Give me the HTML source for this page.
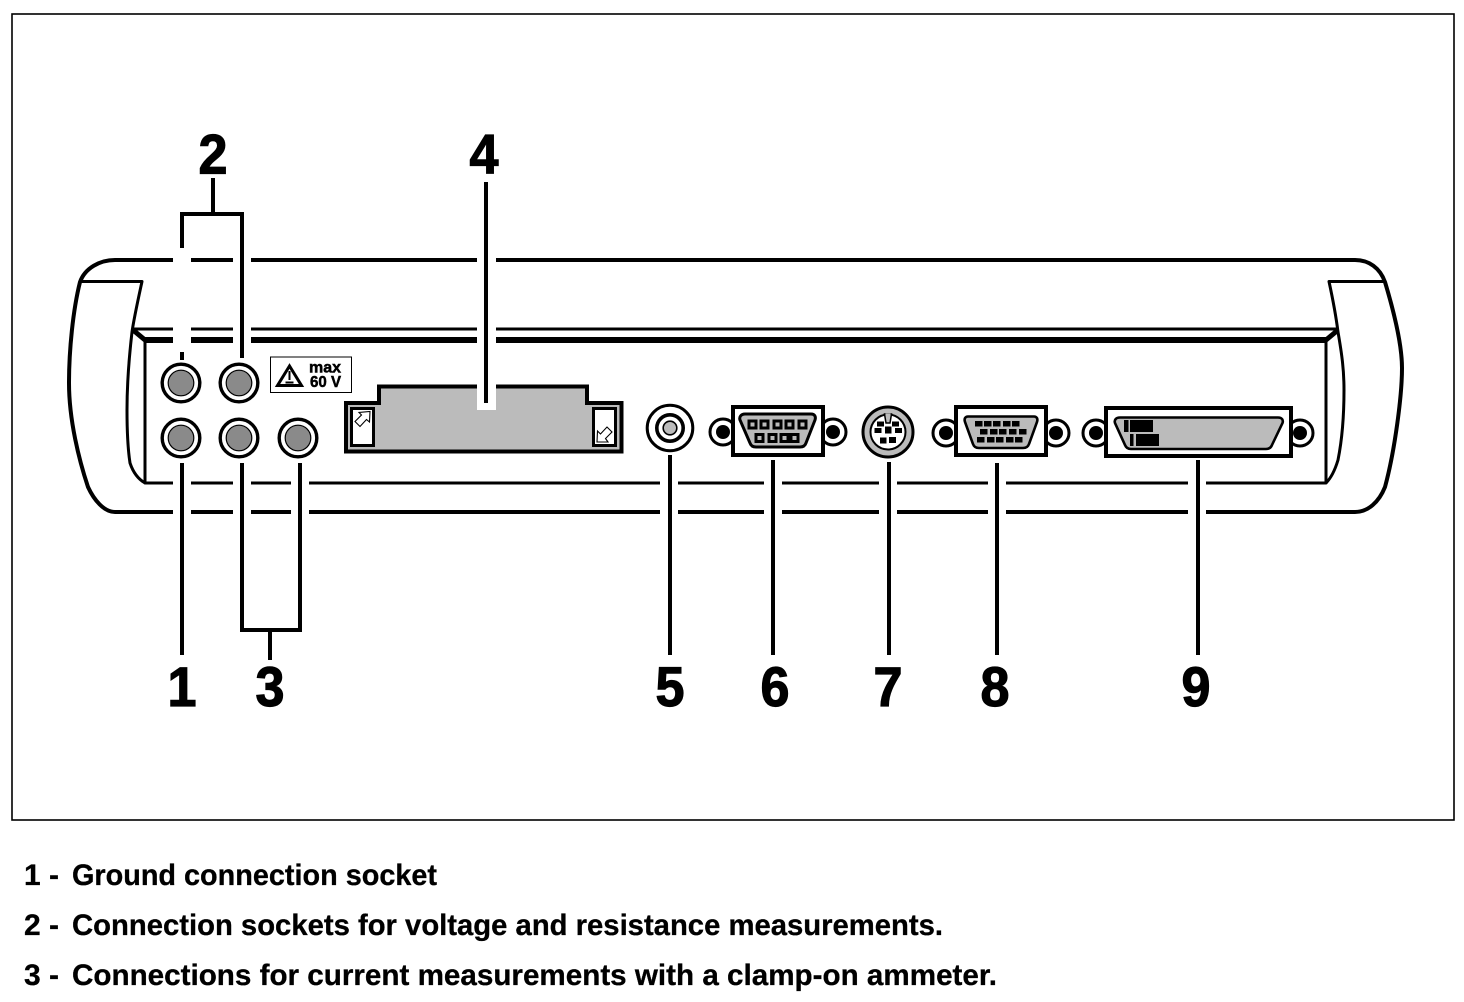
<!DOCTYPE html>
<html><head><meta charset="utf-8"><style>
html,body{margin:0;padding:0;background:#fff}
svg{display:block}
text{font-family:"Liberation Sans",sans-serif;font-weight:bold;fill:#000}
.n{font-size:56px;text-anchor:middle;stroke:#000;stroke-width:1.2px}
.c{font-size:30px;stroke:#000;stroke-width:.3px}
.w{font-size:15.5px;text-anchor:middle;stroke:#000;stroke-width:.5px}
</style></head><body>
<svg width="1464" height="1002" viewBox="0 0 1464 1002" xmlns="http://www.w3.org/2000/svg">
<rect width="1464" height="1002" fill="#fff"/>
<rect x="12" y="14" width="1442" height="806" fill="none" stroke="#000" stroke-width="1.6"/>

<!-- housing -->
<g fill="none" stroke="#000" stroke-linejoin="round">
<path d="M115 260H1355C1369 260 1380 268 1385 282C1391 302 1402 340 1402 368C1402 395 1395 450 1385 487C1379 502 1368 512 1355 512H115C104 512 94 500 88 487C79 460 69 420 69 383C69 350 73 310 80 282C85 268 100 260 115 260Z" stroke-width="4"/>
<path d="M80 281.500H142C138 300 134 318 132 332C129 358 127 385 127 410C127 430 128 450 130 463C133 472 138 479 145 483" stroke-width="3"/>
<path d="M1385 281.500H1329C1333 300 1336 316 1338 332C1342 355 1344 370 1344 390C1344 420 1341 445 1338 460C1335 470 1331 478 1326 483" stroke-width="3"/>
<path d="M132 329H1338" stroke-width="3"/>
<path d="M145 340H1326" stroke-width="6"/>
<path d="M133 330L145 340M1338 330L1326 340" stroke-width="5"/>
<path d="M145 340V483H1326V340" stroke-width="3"/>
</g>

<!-- white halos at leader crossings -->
<g fill="#fff">
<rect x="173" y="255" width="18" height="92"/>
<rect x="233" y="255" width="18" height="92"/>
<rect x="477" y="255" width="19" height="92"/>
<rect x="173" y="478" width="18" height="40"/>
<rect x="233" y="478" width="18" height="40"/>
<rect x="291" y="478" width="18" height="40"/>
<rect x="660" y="478" width="18" height="40"/>
<rect x="764" y="478" width="18" height="40"/>
<rect x="879" y="478" width="18" height="40"/>
<rect x="988" y="478" width="18" height="40"/>
<rect x="1188" y="478" width="18" height="40"/>
</g>

<!-- leaders -->
<g fill="none" stroke="#000" stroke-width="4">
<path d="M213 178V214M182 248V214H242V358M182 352V360"/>
<path d="M486 182V403"/>
<path d="M182 463V655M242 463V630H300V463M270 630V660"/>
<path d="M670 455V655M773 460V655M889 462V655M997 463V655M1198 460V655"/>
</g>

<!-- sockets -->
<g fill="#8a8a8a" stroke="#000">
<circle cx="181" cy="383" r="18.800" fill="#fff" stroke-width="3.4"/><circle cx="181" cy="383" r="12.800" stroke-width="1.2"/>
<circle cx="239" cy="383" r="18.800" fill="#fff" stroke-width="3.4"/><circle cx="239" cy="383" r="12.800" stroke-width="1.2"/>
<circle cx="181" cy="438" r="18.800" fill="#fff" stroke-width="3.4"/><circle cx="181" cy="438" r="12.800" stroke-width="1.2"/>
<circle cx="239" cy="438" r="18.800" fill="#fff" stroke-width="3.4"/><circle cx="239" cy="438" r="12.800" stroke-width="1.2"/>
<circle cx="298" cy="438" r="18.800" fill="#fff" stroke-width="3.4"/><circle cx="298" cy="438" r="12.800" stroke-width="1.2"/>
</g>

<!-- warning label -->
<rect x="270.500" y="357" width="81" height="35.500" fill="#fff" stroke="#000" stroke-width="1"/>
<path d="M289.500 366L277.500 385.500H301.500Z" fill="#fff" stroke="#000" stroke-width="3" stroke-linejoin="miter"/>
<path d="M289.500 371V380M285.500 382.500H293.500" stroke="#000" stroke-width="2" fill="none"/>
<text class="w" x="325" y="372.500" textLength="32" lengthAdjust="spacingAndGlyphs">max</text>
<text class="w" x="325.500" y="387" textLength="31" lengthAdjust="spacingAndGlyphs">60 V</text>

<!-- PC card slot -->
<path d="M346 403H379V386.500H587V403H621.500V451.500H346Z" fill="#bbb" stroke="#000" stroke-width="4"/>
<rect x="477" y="382" width="19" height="28" fill="#fff"/>
<path d="M486 370V403" stroke="#000" stroke-width="4"/>
<rect x="351.500" y="408.500" width="22" height="37" fill="#fff" stroke="#000" stroke-width="3"/>
<rect x="593.500" y="408.500" width="22" height="37" fill="#fff" stroke="#000" stroke-width="3"/>
<path d="M370 411.500L369.500 422L366.500 419.500L360 426.500L355 421.500L361.500 415L359 412.500Z" fill="#fff" stroke="#000" stroke-width="1.100"/>
<path d="M597 442L597.500 431L600.500 434L607 427L612 432L605.500 438.500L608 442Z" fill="#fff" stroke="#000" stroke-width="1.100"/>

<!-- 5 -->
<circle cx="670" cy="428" r="22.800" fill="#fff" stroke="#000" stroke-width="3"/>
<circle cx="670" cy="428" r="13.200" fill="#fff" stroke="#000" stroke-width="3.600"/>
<circle cx="670" cy="428" r="6.800" fill="#bbb" stroke="#000" stroke-width="1.600"/>

<!-- 6 -->
<g fill="#fff" stroke="#000">
<circle cx="723" cy="432" r="13" stroke-width="3"/>
<circle cx="833" cy="432" r="13" stroke-width="3"/>
<rect x="733" y="407" width="90" height="48" stroke-width="4"/>
</g>
<circle cx="723" cy="432" r="7"/><circle cx="833" cy="432" r="7"/>
<path d="M745 414H811C815 414 816 417 815 420L806 443C805 446 803 447 800 447H756C753 447 751 446 750 443L740 420C739 417 741 414 745 414Z" fill="#bbb" stroke="#000" stroke-width="3"/>
<g fill="#bbb" stroke="#000" stroke-width="3">
<rect x="749" y="421" width="7" height="7"/><rect x="761" y="421" width="7" height="7"/><rect x="774" y="421" width="7" height="7"/><rect x="786" y="421" width="7" height="7"/><rect x="799" y="421" width="7" height="7"/>
<rect x="756" y="434.500" width="7" height="7"/><rect x="769" y="434.500" width="7" height="7"/><rect x="781" y="434.500" width="7" height="7"/><rect x="791" y="434.500" width="7" height="7"/>
</g>

<!-- 7 -->
<circle cx="888" cy="432" r="25" fill="#bbb" stroke="#000" stroke-width="3"/>
<circle cx="888" cy="432" r="17.500" fill="#fff" stroke="#000" stroke-width="2"/>
<path d="M884.500 414L886 423H890L891.500 414Z" fill="#bbb" stroke="#000" stroke-width="1.500"/>
<path d="M885.500 413.500H890.500V416H885.500Z" fill="#bbb"/>
<g fill="#000">
<rect x="877" y="421.500" width="7" height="5"/><rect x="892" y="421.500" width="7" height="5"/>
<rect x="874.500" y="428" width="7" height="5"/><rect x="885" y="426.500" width="6.500" height="7"/><rect x="895" y="428" width="7" height="5"/>
<rect x="880" y="437.500" width="6.500" height="6"/><rect x="889" y="437" width="7" height="6"/>
</g>

<!-- 8 -->
<g fill="#fff" stroke="#000">
<circle cx="946" cy="433" r="13" stroke-width="3"/>
<circle cx="1056" cy="433" r="13" stroke-width="3"/>
<rect x="956" y="407" width="90" height="48" stroke-width="4"/>
</g>
<circle cx="946" cy="433" r="7"/><circle cx="1056" cy="433" r="7"/>
<path d="M968 416.500H1034C1037 416.500 1038 419 1037 422L1029 444C1028 447 1026 448 1023 448H979C976 448 974 447 973 444L965 422C964 419 965 416.500 968 416.500Z" fill="#bbb" stroke="#000" stroke-width="2.600"/>
<g fill="#000">
<rect x="975" y="421" width="7.500" height="5.500"/><rect x="984" y="421" width="7.500" height="5.500"/><rect x="993" y="421" width="7.500" height="5.500"/><rect x="1003" y="421" width="7.500" height="5.500"/><rect x="1012" y="421" width="7.500" height="5.500"/>
<rect x="980" y="429" width="7.500" height="5.500"/><rect x="990" y="429" width="7.500" height="5.500"/><rect x="999" y="429" width="7.500" height="5.500"/><rect x="1009" y="429" width="7.500" height="5.500"/><rect x="1019" y="429" width="7.500" height="5.500"/>
<rect x="977" y="437" width="7.500" height="5.500"/><rect x="987" y="437" width="7.500" height="5.500"/><rect x="996" y="437" width="7.500" height="5.500"/><rect x="1006" y="437" width="7.500" height="5.500"/><rect x="1015" y="437" width="7.500" height="5.500"/>
</g>

<!-- 9 -->
<g fill="#fff" stroke="#000">
<circle cx="1096" cy="433" r="13" stroke-width="3"/>
<circle cx="1300" cy="433" r="13" stroke-width="3"/>
<rect x="1106" y="408" width="185" height="48" stroke-width="4"/>
</g>
<circle cx="1096" cy="433" r="7"/><circle cx="1300" cy="433" r="7"/>
<path d="M1120 417.500H1278C1282 417.500 1283.500 420 1282.500 423L1272 445C1271 447.500 1269 449 1266 449H1131C1128 449 1126 447.500 1125 445L1115 423C1114 420 1116 417.500 1120 417.500Z" fill="#bbb" stroke="#000" stroke-width="2.600"/>
<g fill="#000">
<rect x="1124" y="420" width="4.500" height="12"/><rect x="1130" y="420" width="23" height="12"/>
<rect x="1130" y="434" width="3.500" height="12"/><rect x="1136" y="434" width="23" height="12"/>
</g>

<!-- callout numbers -->
<text class="n" x="213" y="173.500" textLength="29" lengthAdjust="spacingAndGlyphs">2</text>
<text class="n" x="484" y="173.500" textLength="29" lengthAdjust="spacingAndGlyphs">4</text>
<text class="n" x="182" y="706" textLength="29" lengthAdjust="spacingAndGlyphs">1</text>
<text class="n" x="270" y="706" textLength="29" lengthAdjust="spacingAndGlyphs">3</text>
<text class="n" x="670" y="706" textLength="29" lengthAdjust="spacingAndGlyphs">5</text>
<text class="n" x="775" y="706" textLength="29" lengthAdjust="spacingAndGlyphs">6</text>
<text class="n" x="888" y="706" textLength="29" lengthAdjust="spacingAndGlyphs">7</text>
<text class="n" x="995" y="706" textLength="29" lengthAdjust="spacingAndGlyphs">8</text>
<text class="n" x="1196" y="706" textLength="29" lengthAdjust="spacingAndGlyphs">9</text>

<!-- captions -->
<text class="c" x="24" y="885">1</text><text class="c" x="49" y="885">-</text>
<text class="c" x="72" y="885" textLength="365" lengthAdjust="spacingAndGlyphs">Ground connection socket</text>
<text class="c" x="24" y="935">2</text><text class="c" x="49" y="935">-</text>
<text class="c" x="72" y="935" textLength="871" lengthAdjust="spacingAndGlyphs">Connection sockets for voltage and resistance measurements.</text>
<text class="c" x="24" y="985">3</text><text class="c" x="49" y="985">-</text>
<text class="c" x="72" y="985" textLength="925" lengthAdjust="spacingAndGlyphs">Connections for current measurements with a clamp-on ammeter.</text>
</svg>
</body></html>
